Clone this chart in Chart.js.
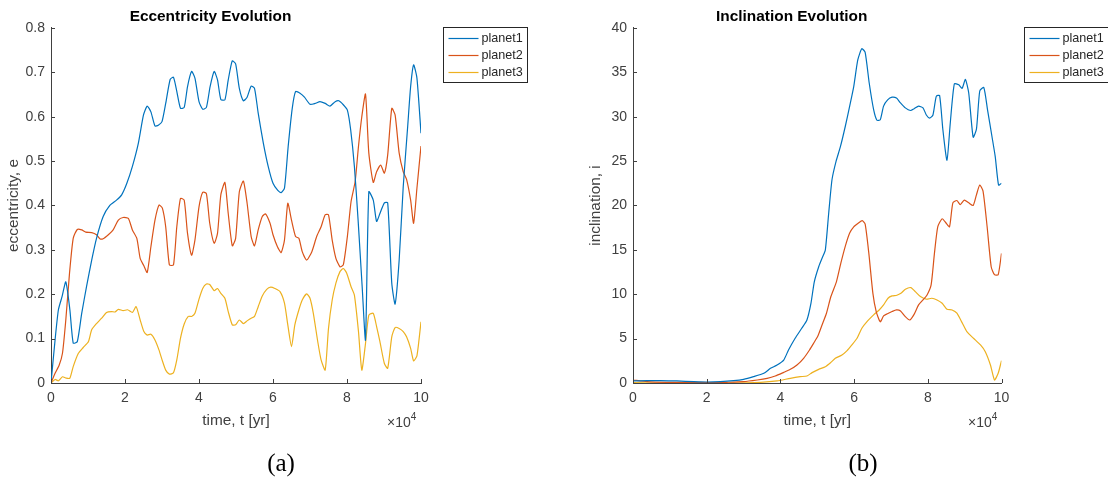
<!DOCTYPE html>
<html>
<head>
<meta charset="utf-8">
<script src="https://cdn.jsdelivr.net/npm/chart.js@4.4.1/dist/chart.umd.min.js"></script>
<style>
  body { margin: 0; width: 1108px; height: 482px; background: #fff; position: relative; overflow: hidden; }
  .panel { position: absolute; top: 0; height: 440px; }
  .expo { position: absolute; top: 412px; font: 14px "Liberation Sans", Arial, sans-serif; color: #404040; white-space: nowrap; }
  .expo sup { font-size: 10px; position: relative; top: -1px; }
  .caption { position: absolute; top: 450px; width: 100px; text-align: center; font: 25px "Liberation Serif", "DejaVu Serif", serif; line-height: 1; color: #000; }
</style>
</head>
<body>
<div class="panel" style="left:0;width:554px"><canvas id="eccChart"></canvas></div>
<div class="panel" style="left:582px;width:526px"><canvas id="incChart"></canvas></div>
<div class="expo" style="left:387px">&times;10<sup>4</sup></div>
<div class="expo" style="left:968px">&times;10<sup>4</sup></div>
<div class="caption" style="left:231px">(a)</div>
<div class="caption" style="left:813px">(b)</div>
<script>
// time is in units of 10^4 yr, pairs are [t, value]
const seriesNames = ["planet1", "planet2", "planet3"];
const seriesColors = ["#0072BD", "#D95319", "#EDB120"];

const eccPlanet1 = [[0,0],[0.11,0.097],[0.2,0.165],[0.3,0.195],[0.4,0.228],[0.51,0.165],[0.6,0.09],[0.71,0.093],[0.83,0.157],[0.96,0.217],[1.1,0.277],[1.23,0.326],[1.41,0.375],[1.59,0.4],[1.77,0.412],[1.91,0.424],[2.05,0.45],[2.2,0.488],[2.36,0.54],[2.5,0.604],[2.6,0.624],[2.7,0.611],[2.81,0.579],[2.9,0.581],[3.0,0.589],[3.1,0.63],[3.22,0.684],[3.31,0.689],[3.4,0.657],[3.5,0.619],[3.6,0.621],[3.69,0.668],[3.8,0.702],[3.89,0.687],[4.0,0.634],[4.1,0.617],[4.2,0.621],[4.3,0.668],[4.41,0.702],[4.5,0.683],[4.59,0.639],[4.7,0.638],[4.79,0.683],[4.9,0.726],[4.99,0.719],[5.09,0.664],[5.2,0.636],[5.3,0.644],[5.41,0.669],[5.5,0.664],[5.6,0.608],[5.74,0.54],[5.87,0.488],[6.0,0.45],[6.13,0.434],[6.22,0.429],[6.31,0.439],[6.41,0.533],[6.52,0.619],[6.61,0.657],[6.73,0.653],[6.85,0.644],[7.0,0.628],[7.14,0.63],[7.27,0.634],[7.41,0.63],[7.54,0.624],[7.68,0.634],[7.78,0.636],[7.9,0.627],[8.01,0.615],[8.1,0.57],[8.2,0.488],[8.3,0.367],[8.41,0.217],[8.5,0.097],[8.59,0.431],[8.71,0.412],[8.8,0.364],[8.89,0.382],[9.01,0.406],[9.1,0.406],[9.21,0.225],[9.3,0.178],[9.41,0.277],[9.52,0.443],[9.64,0.578],[9.72,0.668],[9.8,0.717],[9.89,0.687],[10.0,0.563]];

const eccPlanet2 = [[0,0],[0.11,0.022],[0.22,0.04],[0.31,0.067],[0.4,0.142],[0.5,0.247],[0.6,0.326],[0.71,0.346],[0.83,0.345],[0.94,0.34],[1.1,0.339],[1.23,0.334],[1.32,0.325],[1.41,0.325],[1.55,0.334],[1.68,0.345],[1.82,0.367],[1.95,0.373],[2.09,0.371],[2.2,0.345],[2.32,0.326],[2.41,0.281],[2.51,0.264],[2.6,0.249],[2.7,0.307],[2.81,0.367],[2.92,0.401],[3.01,0.394],[3.1,0.352],[3.2,0.266],[3.31,0.266],[3.4,0.352],[3.5,0.416],[3.6,0.412],[3.69,0.337],[3.8,0.288],[3.89,0.322],[4.0,0.397],[4.1,0.43],[4.2,0.427],[4.29,0.36],[4.41,0.315],[4.5,0.337],[4.59,0.424],[4.7,0.452],[4.79,0.382],[4.9,0.309],[4.99,0.326],[5.09,0.431],[5.2,0.455],[5.3,0.405],[5.41,0.33],[5.5,0.309],[5.6,0.345],[5.71,0.375],[5.8,0.381],[5.92,0.36],[6.0,0.334],[6.12,0.307],[6.22,0.294],[6.31,0.322],[6.4,0.405],[6.5,0.367],[6.61,0.33],[6.7,0.326],[6.79,0.296],[6.91,0.277],[7.05,0.296],[7.18,0.33],[7.3,0.352],[7.41,0.379],[7.5,0.379],[7.6,0.322],[7.7,0.281],[7.81,0.262],[7.9,0.266],[8.01,0.33],[8.11,0.409],[8.22,0.454],[8.31,0.533],[8.4,0.6],[8.5,0.651],[8.59,0.518],[8.71,0.452],[8.8,0.476],[8.91,0.491],[9.01,0.473],[9.1,0.514],[9.21,0.619],[9.3,0.604],[9.41,0.518],[9.52,0.476],[9.61,0.459],[9.72,0.412],[9.8,0.36],[9.89,0.439],[10.0,0.534]];

const eccPlanet3 = [[0,0],[0.11,0.008],[0.2,0.005],[0.31,0.014],[0.41,0.011],[0.51,0.011],[0.6,0.037],[0.74,0.067],[0.87,0.08],[1.01,0.093],[1.1,0.12],[1.23,0.134],[1.37,0.146],[1.5,0.159],[1.64,0.161],[1.73,0.16],[1.82,0.166],[1.95,0.163],[2.07,0.165],[2.2,0.159],[2.3,0.172],[2.41,0.142],[2.51,0.116],[2.6,0.108],[2.7,0.11],[2.81,0.097],[2.92,0.074],[3.01,0.05],[3.1,0.029],[3.2,0.02],[3.31,0.023],[3.4,0.052],[3.5,0.101],[3.6,0.133],[3.71,0.15],[3.8,0.15],[3.89,0.157],[4.0,0.189],[4.1,0.213],[4.2,0.223],[4.29,0.222],[4.41,0.208],[4.5,0.213],[4.59,0.202],[4.7,0.191],[4.79,0.161],[4.9,0.131],[4.99,0.131],[5.09,0.142],[5.2,0.134],[5.3,0.14],[5.41,0.146],[5.5,0.15],[5.6,0.172],[5.71,0.196],[5.83,0.211],[5.94,0.216],[6.05,0.213],[6.19,0.206],[6.31,0.18],[6.4,0.131],[6.5,0.082],[6.59,0.131],[6.7,0.165],[6.79,0.187],[6.91,0.201],[7.0,0.191],[7.09,0.157],[7.21,0.093],[7.3,0.052],[7.41,0.029],[7.5,0.123],[7.6,0.187],[7.7,0.225],[7.81,0.251],[7.9,0.258],[7.99,0.248],[8.11,0.217],[8.2,0.198],[8.31,0.116],[8.4,0.029],[8.5,0.089],[8.59,0.153],[8.71,0.157],[8.8,0.127],[8.89,0.093],[9.01,0.044],[9.1,0.033],[9.21,0.104],[9.3,0.125],[9.41,0.123],[9.52,0.116],[9.61,0.104],[9.72,0.078],[9.8,0.05],[9.89,0.061],[10.0,0.138]];

const incPlanet1 = [[0,0.23],[0.38,0.26],[0.74,0.26],[1.19,0.23],[1.65,0.15],[2.0,0.11],[2.37,0.15],[2.73,0.26],[3.0,0.41],[3.27,0.71],[3.55,1.09],[3.73,1.65],[3.91,2.03],[4.09,2.59],[4.22,3.72],[4.4,5.04],[4.58,6.17],[4.72,7.1],[4.83,9.0],[4.92,11.4],[5.04,13.1],[5.15,14.25],[5.22,15.0],[5.31,19.1],[5.4,22.9],[5.51,24.96],[5.63,26.65],[5.76,28.9],[5.88,31.2],[5.99,33.4],[6.1,36.4],[6.21,37.67],[6.3,37.25],[6.41,33.8],[6.53,30.8],[6.62,29.6],[6.71,29.66],[6.8,31.2],[6.91,31.9],[7.03,32.2],[7.15,32.1],[7.25,31.6],[7.39,31.0],[7.53,30.7],[7.63,30.9],[7.75,31.2],[7.87,31.0],[7.96,30.2],[8.05,29.85],[8.14,30.2],[8.23,32.3],[8.32,32.4],[8.41,28.5],[8.52,25.1],[8.61,29.3],[8.72,33.7],[8.84,33.6],[8.93,33.2],[9.02,34.2],[9.11,32.7],[9.23,27.7],[9.32,28.6],[9.41,32.9],[9.52,33.3],[9.62,30.8],[9.74,27.8],[9.83,25.5],[9.92,22.3],[10.0,22.5]];

const incPlanet2 = [[0,0.34],[0.38,0.15],[0.92,0.08],[1.65,0.08],[2.1,0.04],[2.55,0.08],[3.0,0.15],[3.37,0.34],[3.64,0.53],[3.86,0.79],[4.09,1.2],[4.27,1.54],[4.45,2.03],[4.63,2.78],[4.79,3.72],[4.9,4.47],[5.01,5.23],[5.13,6.54],[5.25,7.86],[5.37,9.74],[5.52,11.4],[5.64,13.5],[5.76,15.4],[5.88,16.9],[5.99,17.6],[6.11,18.0],[6.22,18.3],[6.3,17.9],[6.4,14.6],[6.51,10.1],[6.6,8.05],[6.71,6.9],[6.8,7.56],[6.89,7.78],[7.03,8.05],[7.15,8.23],[7.26,8.12],[7.39,7.48],[7.51,7.1],[7.62,7.67],[7.75,8.8],[7.87,9.36],[7.98,9.92],[8.09,11.05],[8.18,14.6],[8.27,17.6],[8.39,18.5],[8.5,18.0],[8.59,17.6],[8.68,20.3],[8.79,20.56],[8.88,20.1],[8.99,20.6],[9.11,20.3],[9.23,20.0],[9.32,21.2],[9.41,22.3],[9.5,21.6],[9.61,17.6],[9.72,13.1],[9.81,12.2],[9.91,12.2],[10.0,14.6]];

const incPlanet3 = [[0,0.04],[0.74,0.0],[1.65,0.0],[2.55,0.0],[3.46,0.08],[3.91,0.23],[4.27,0.53],[4.54,0.71],[4.72,0.79],[4.86,1.17],[5.04,1.54],[5.22,1.84],[5.36,2.29],[5.49,2.78],[5.67,3.16],[5.81,3.65],[5.94,4.29],[6.08,5.04],[6.21,6.17],[6.35,6.92],[6.53,7.67],[6.68,8.23],[6.8,8.8],[6.92,9.55],[7.03,9.81],[7.16,9.89],[7.27,10.1],[7.39,10.56],[7.54,10.75],[7.66,10.3],[7.8,9.74],[7.96,9.44],[8.11,9.55],[8.25,9.36],[8.39,8.98],[8.52,8.31],[8.66,8.23],[8.79,7.86],[8.93,6.8],[9.06,5.79],[9.24,5.04],[9.43,4.29],[9.56,3.53],[9.7,2.03],[9.81,0.34],[9.91,1.09],[10.0,2.52]];

const timeTicks = { min: 0, max: 10, step: 2 };
const eccTicks = { min: 0, max: 0.8, step: 0.1 };
const incTicks = { min: 0, max: 40, step: 5 };

const axisColor = "#404040";
const fontFamily = '"Liberation Sans", Arial, Helvetica, sans-serif';
Chart.defaults.font.family = fontFamily;

// MATLAB style: inward tick marks and a boxed legend outside the axes
const matlabAxes = {
  id: "matlabAxes",
  afterDraw(chart) {
    const { ctx, chartArea, scales } = chart;
    ctx.save();
    ctx.strokeStyle = axisColor;
    ctx.lineWidth = 1;
    ctx.beginPath();
    scales.x.ticks.forEach((t, i) => {
      const px = Math.round(scales.x.getPixelForTick(i)) + 0.5;
      ctx.moveTo(px, chartArea.bottom);
      ctx.lineTo(px, chartArea.bottom - 4);
    });
    scales.y.ticks.forEach((t, i) => {
      const py = Math.round(scales.y.getPixelForTick(i)) + 0.5;
      ctx.moveTo(chartArea.left, py);
      ctx.lineTo(chartArea.left + 4, py);
    });
    ctx.stroke();

    const left = Math.round(chartArea.right + 22) + 0.5;
    const top = 27.5;
    ctx.fillStyle = "#fff";
    ctx.fillRect(left, top, 84, 55);
    ctx.strokeStyle = "#262626";
    ctx.strokeRect(left, top, 84, 55);
    ctx.font = "12.6px " + fontFamily;
    ctx.textBaseline = "middle";
    chart.data.datasets.forEach((ds, i) => {
      const y = top + 11 + i * 17;
      ctx.strokeStyle = ds.borderColor;
      ctx.lineWidth = 1.2;
      ctx.beginPath();
      ctx.moveTo(left + 5, y);
      ctx.lineTo(left + 35, y);
      ctx.stroke();
      ctx.fillStyle = "#262626";
      ctx.fillText(ds.label, left + 38, y);
    });
    ctx.restore();
  },
};

function makeChart(id, title, yTitle, series, yTicks, rightPad, tickFmt) {
  const datasets = series.map((pts, i) => ({
    label: seriesNames[i],
    data: pts.map(([x, y]) => ({ x, y })),
    borderColor: seriesColors[i],
    borderWidth: 1.2,
    showLine: true,
    pointRadius: 0,
    tension: 0.2,
    fill: false,
  }));

  return new Chart(document.getElementById(id), {
    type: "scatter",
    data: { datasets },
    options: {
      responsive: true,
      maintainAspectRatio: false,
      animation: false,
      layout: { padding: { left: 0, right: rightPad, top: 0, bottom: 0 } },
      plugins: {
        legend: { display: false },
        tooltip: { enabled: false },
        title: {
          display: true,
          text: title,
          color: "#000",
          font: { size: 15.4, weight: "bold" },
          padding: { top: 8, bottom: 1.5 },
        },
      },
      scales: {
        x: {
          type: "linear",
          min: timeTicks.min,
          max: timeTicks.max,
          grid: { display: false, drawTicks: false },
          border: { color: axisColor, width: 1 },
          ticks: { stepSize: timeTicks.step, color: axisColor, padding: 7, font: { size: 14 } },
          title: {
            display: true,
            text: "time, t [yr]",
            color: axisColor,
            font: { size: 15.4 },
            padding: { top: 0, bottom: 10 },
          },
          afterFit(s) { s.height = 57; },
        },
        y: {
          min: yTicks.min,
          max: yTicks.max,
          grid: { display: false, drawTicks: false },
          border: { color: axisColor, width: 1 },
          ticks: {
            stepSize: yTicks.step,
            color: axisColor,
            padding: 6,
            font: { size: 14 },
            callback: tickFmt,
          },
          title: {
            display: true,
            text: yTitle,
            color: axisColor,
            font: { size: 15.4 },
            padding: { top: 5, bottom: 0 },
          },
          afterFit(s) { s.width = 51; },
        },
      },
    },
    plugins: [matlabAxes],
  });
}

makeChart("eccChart", "Eccentricity Evolution", "eccentricity, e",
  [eccPlanet1, eccPlanet2, eccPlanet3], eccTicks, 133,
  (v) => (Math.abs(v) < 1e-9 ? "0" : v.toFixed(1)));

makeChart("incChart", "Inclination Evolution", "inclination, i",
  [incPlanet1, incPlanet2, incPlanet3], incTicks, 106.5,
  (v) => String(Math.round(v)));
</script>
</body>
</html>
